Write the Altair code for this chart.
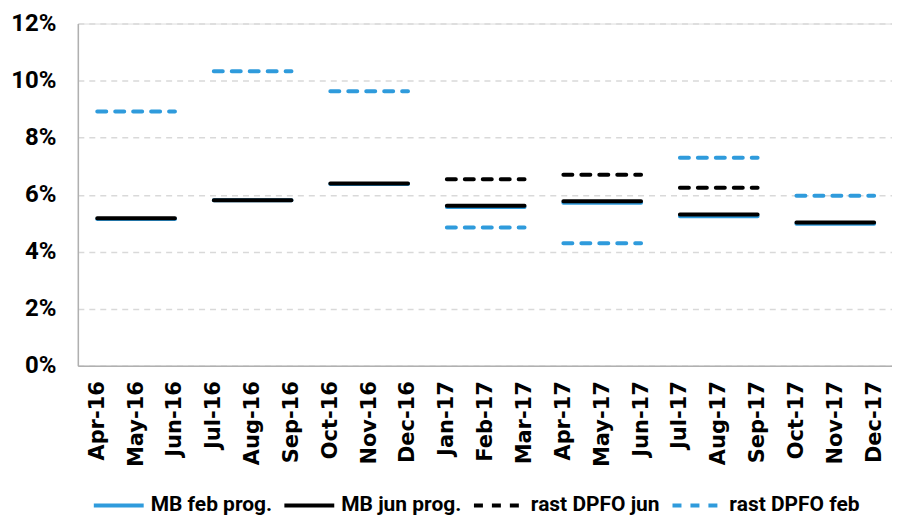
import altair as alt
import pandas as pd

months = ["Apr-16", "May-16", "Jun-16", "Jul-16", "Aug-16", "Sep-16", "Oct-16",
          "Nov-16", "Dec-16", "Jan-17", "Feb-17", "Mar-17", "Apr-17", "May-17",
          "Jun-17", "Jul-17", "Aug-17", "Sep-17", "Oct-17", "Nov-17", "Dec-17"]

# one value per quarter (Q2-16 ... Q4-17), drawn across the quarter's three months
series_names = ["MB feb prog.", "MB jun prog.", "rast DPFO jun", "rast DPFO feb"]
mb_feb = [5.15, 5.80, 6.37, 5.57, 5.72, 5.24, 4.98]
mb_jun = [5.17, 5.80, 6.39, 5.61, 5.77, 5.30, 5.02]
dpfo_jun = [None, None, None, 6.54, 6.70, 6.24, None]
dpfo_feb = [8.92, 10.33, 9.63, 4.85, 4.30, 7.29, 5.96]

series_values = [mb_feb, mb_jun, dpfo_jun, dpfo_feb]
colors = ["#2F9BDC", "#000000", "#000000", "#2F9BDC"]
dashes = [[1, 0], [1, 0], [9, 9], [9, 9]]

rows = []
for name, vals in zip(series_names, series_values):
    for q, v in enumerate(vals):
        if v is None:
            continue
        rows.append({"series": name, "quarter": q, "idx": 3 * q, "value": v})
        rows.append({"series": name, "quarter": q, "idx": 3 * q + 2, "value": v})
df = pd.DataFrame(rows)

label_expr = "[" + ",".join("'" + m + "'" for m in months) + "][datum.value]"
narrow = "Roboto, Liberation Sans"

x_enc = alt.X("idx:Q",
              scale=alt.Scale(domain=[-0.5, 20.46], nice=False, zero=False),
              axis=alt.Axis(values=list(range(len(months))), labelExpr=label_expr,
                            labelAngle=-90, labelFont="DejaVu Sans",
                            labelFontWeight="bold", labelFontSize=21,
                            labelColor="#000000", labelPadding=15,
                            labelOverlap=False, labelFlush=False,
                            ticks=False, grid=False, title=None,
                            domainColor="#b0b0b0", domainWidth=1.5))
y_enc = alt.Y("value:Q",
              scale=alt.Scale(domain=[0, 12], nice=False),
              axis=alt.Axis(values=[0, 2, 4, 6, 8, 10, 12],
                            labelExpr="datum.value + '%'",
                            labelFont=narrow,
                            labelFontWeight="bold", labelFontSize=24,
                            labelColor="#000000", labelPadding=22,
                            ticks=False, title=None,
                            grid=True, gridColor="#d9d9d9", gridDash=[6, 5],
                            gridWidth=1.5,
                            domainColor="#b0b0b0", domainWidth=1.5))
color_enc = alt.Color("series:N",
                      scale=alt.Scale(domain=series_names, range=colors),
                      legend=alt.Legend(title=None, orient="none", direction="horizontal",
                                        legendX=14, legendY=456,
                                        symbolType="stroke", symbolSize=2500,
                                        symbolStrokeWidth=4, labelOffset=5,
                                        columnPadding=4,
                                        labelFont=narrow,
                                        labelFontWeight="bold", labelFontSize=21,
                                        labelColor="#000000", labelLimit=300))
dash_enc = alt.StrokeDash("series:N",
                          scale=alt.Scale(domain=series_names, range=dashes),
                          legend=None)

layers = []
for name in series_names:
    layers.append(
        alt.Chart(df)
        .transform_filter(alt.datum.series == name)
        .mark_line(strokeWidth=4, strokeCap="round")
        .encode(x=x_enc, y=y_enc, color=color_enc, strokeDash=dash_enc,
                detail="quarter:N")
    )

chart = (
    alt.layer(*layers)
    .properties(width=816, height=343,
                autosize=alt.AutoSizeParams(type="none"),
                padding={"left": 70, "top": 15, "right": 0, "bottom": 152})
    .configure_view(stroke=None)
    .configure(background="#ffffff")
)

chart.save("out.html", embed_options={"renderer": "svg", "actions": False})
